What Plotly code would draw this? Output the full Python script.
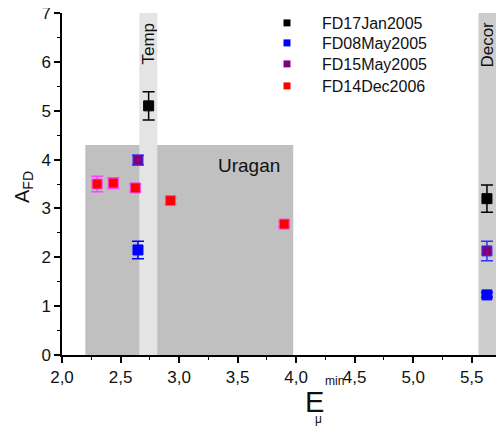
import plotly.graph_objects as go

# ---- data ----
names = ["FD17Jan2005", "FD08May2005", "FD15May2005", "FD14Dec2006"]

jan05_x = [2.74, 5.63]
jan05_y = [5.10, 3.20]
jan05_err = [0.29, 0.28]

may08_x = [2.649, 5.63]
may08_y = [2.15, 1.23]
may08_err = [0.18, 0.05]

may15_x = [2.649, 5.63]
may15_y = [3.99, 2.13]
may15_err = [0.10, 0.20]

dec06_x = [2.30, 2.438, 2.626, 2.927, 3.898]
dec06_y = [3.50, 3.52, 3.42, 3.16, 2.68]
dec06_err = [0.16, 0.11, 0.08, 0.06, 0.05]

# bands: x0, x1, y0, y1
uragan_band = [2.199, 3.975, 0, 4.3]
temp_band = [2.66, 2.814, 0, 7]
decor_band = [5.558, 5.709, 0, 7]

x_ticks = [2.0, 2.5, 3.0, 3.5, 4.0, 4.5, 5.0, 5.5]
y_ticks = [0, 1, 2, 3, 4, 5, 6, 7]

FONT = "Liberation Sans, Arial, sans-serif"

# page body has an 8px margin; compensate so the plot lands where the reference has it
OFF = 8
W, H = 504 - OFF, 427 - OFF
PX_L, PX_R, PX_T, PX_B = 62, 501, 13, 355      # plot area in screenshot pixels
L, R, T, B = PX_L - OFF, (OFF + W) - PX_R, PX_T - OFF, (OFF + H) - PX_B
pw, ph = PX_R - PX_L, PX_B - PX_T


def px2paper(px, py):
    return (px - PX_L) / pw, (PX_B - py) / ph


fig = go.Figure()

series = [
    (jan05_x, jan05_y, jan05_err, "#000000", "#000000", "#000000"),
    (may08_x, may08_y, may08_err, "#0000ff", "#0000ff", "#0000ff"),
    (may15_x, may15_y, may15_err, "#800080", "#3030ff", "#3030ff"),
    (dec06_x, dec06_y, dec06_err, "#ff0000", "#ff40ff", "#ff40ff"),
]

for (xs, ys, es, fill, line, ecol), nm in zip(series, names):
    fig.add_trace(go.Scatter(
        x=xs, y=ys, mode="markers", name=nm, showlegend=False,
        marker=dict(symbol="square", size=10, color=fill,
                    line=dict(color=line, width=1)),
        error_y=dict(type="data", array=es, visible=True, color=ecol,
                     thickness=1.5, width=6),
    ))

# legend entries: one small legend per series so row spacing matches the reference
legend_rows_px = [23, 43, 64, 86]
legend_keys = ["legend", "legend2", "legend3", "legend4"]
for (xs, ys, es, fill, line, ecol), nm, lk in zip(series, names, legend_keys):
    fig.add_trace(go.Scatter(
        x=[None], y=[None], mode="markers", name=nm, legend=lk,
        marker=dict(symbol="square", size=7, color=fill),
    ))

shapes = []
for (x0, x1, y0, y1), col in [(uragan_band, "#c0c0c0"),
                              (temp_band, "#e4e4e4"),
                              (decor_band, "#cdcdcd")]:
    shapes.append(dict(type="rect", xref="x", yref="y", x0=x0, x1=x1, y0=y0, y1=y1,
                       fillcolor=col, line=dict(width=0), layer="below"))

annotations = [
    dict(x=3.60, y=3.87, xref="x", yref="y", text="Uragan", showarrow=False,
         font=dict(family=FONT, size=19, color="#111")),
    dict(x=2.737, y=6.38, xref="x", yref="y", text="Temp", showarrow=False,
         textangle=-90, font=dict(family=FONT, size=17, color="#111")),
    dict(x=5.633, y=6.36, xref="x", yref="y", text="Decor", showarrow=False,
         textangle=-90, font=dict(family=FONT, size=17, color="#111")),
]

# axis titles placed by screenshot pixel
for px, py, txt, size, ang in [(23, 187, "A<sub>FD</sub>", 20, -90),
                               (314, 402, "E", 29, 0),
                               (334, 381, "min", 12, 0),
                               (318, 419, "μ", 12, 0)]:
    ax, ay = px2paper(px, py)
    annotations.append(dict(x=ax, y=ay, xref="paper", yref="paper", text=txt,
                            xanchor="center", yanchor="middle",
                            showarrow=False, textangle=ang,
                            font=dict(family=FONT, size=size, color="#111")))

legend_layout = {}
for lk, ry in zip(legend_keys, legend_rows_px):
    lx, ly = px2paper(252, ry)
    legend_layout[lk] = dict(x=lx, y=ly, xanchor="left", yanchor="middle",
                             bgcolor="rgba(0,0,0,0)",
                             font=dict(family=FONT, size=16, color="#111"),
                             itemwidth=60)

fig.update_layout(
    width=W, height=H,
    margin=dict(l=L, r=R, t=T, b=B, autoexpand=False),
    paper_bgcolor="white", plot_bgcolor="white",
    separators=", ",
    font=dict(family=FONT, size=17, color="#111"),
    shapes=shapes,
    annotations=annotations,
    showlegend=True,
    **legend_layout,
)

fig.update_xaxes(
    range=[2.0, 5.75], showgrid=False, zeroline=False,
    showline=True, linecolor="black", linewidth=1.5,
    ticks="outside", ticklen=6, tickwidth=1.5, tickcolor="black",
    tickvals=x_ticks, tickformat=".1f", ticklabeloverflow="allow",
    minor=dict(dtick=0.25, tick0=2.0, ticks="outside", ticklen=3,
               tickwidth=1.2, tickcolor="black", showgrid=False),
    tickfont=dict(family=FONT, size=17, color="#111"),
)
fig.update_yaxes(
    range=[0, 7], showgrid=False, zeroline=False,
    showline=True, linecolor="black", linewidth=1.5,
    ticks="outside", ticklen=6, tickwidth=1.5, tickcolor="black",
    tickvals=y_ticks, ticklabeloverflow="allow",
    minor=dict(dtick=0.5, tick0=0, ticks="outside", ticklen=3,
               tickwidth=1.2, tickcolor="black", showgrid=False),
    tickfont=dict(family=FONT, size=17, color="#111"),
)

fig.write_html("out.html")
